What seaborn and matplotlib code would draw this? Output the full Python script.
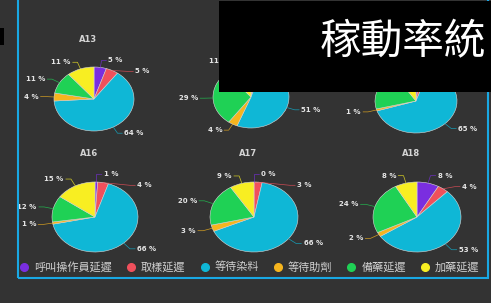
import matplotlib
matplotlib.use('Agg')
import matplotlib.pyplot as plt
import numpy as np
import seaborn as sns
from matplotlib.patches import Rectangle
from matplotlib.lines import Line2D

sns.set_theme(style='dark')
plt.rcParams['font.family'] = ['Noto Sans CJK TC', 'DejaVu Sans']

# data
machines = ['A13', 'A14', 'A15', 'A16', 'A17', 'A18']
reasons = ['呼叫操作員延遲', '取樣延遲', '等待染料', '等待助劑', '備藥延遲', '加藥延遲']
a13 = [5, 5, 64, 4, 11, 11]
a14 = [2, 3, 51, 4, 29, 11]
a15 = [2, 3, 65, 1, 20, 9]
a16 = [1, 4, 66, 1, 12, 15]
a17 = [0, 3, 66, 3, 20, 9]
a18 = [8, 4, 53, 2, 24, 8]
shares = [a13, a14, a15, a16, a17, a18]

colors = sns.color_palette(['#7a2ee0', '#f0505c', '#0fb7d6', '#f6b51e', '#1fd155', '#f8ee22'])

W, H = 491, 303
BG = '#333333'
fig = plt.figure(figsize=(W / 100, H / 100), dpi=100, facecolor=BG)

# centre x, centre y, radius x, radius y (pixels)
layout = [(94, 99, 40, 32), (251, 97, 38, 31), (416, 101, 41, 32),
          (95, 217, 43, 35), (254, 217, 44, 35), (417, 217, 44, 35)]
L = 2.0
R = 1.22     # elbow radius
GAP = 11     # min px between label rows

for name, vals, (cx, cy, rx, ry) in zip(machines, shares, layout):
    ax = fig.add_axes([(cx - L * rx) / W, (H - cy - L * ry) / H,
                       2 * L * rx / W, 2 * L * ry / H])
    wedges, _ = ax.pie(vals, colors=colors, startangle=90, counterclock=False,
                       wedgeprops=dict(edgecolor='#d8d8d8', linewidth=0.4))
    ax.set_aspect('auto')
    ax.set_xlim(-L, L)
    ax.set_ylim(-L, L)
    ax.axis('off')

    labels = []
    for w, v, c in zip(wedges, vals, colors):
        mid = np.deg2rad((w.theta1 + w.theta2) / 2)
        cs, sn = np.cos(mid), np.sin(mid)
        side = 1 if cs >= -0.01 else -1
        labels.append([cs, sn, side, R * sn, v, c])
    # push labels apart on each side (top to bottom)
    for side in (1, -1):
        grp = sorted([lb for lb in labels if lb[2] == side], key=lambda t: -t[3])
        for prev, cur in zip(grp, grp[1:]):
            if prev[3] - cur[3] < GAP / ry:
                cur[3] = prev[3] - GAP / ry
    for cs, sn, side, y1, v, c in labels:
        if abs(y1 - R * sn) < 1e-9:
            x1 = R * cs
        else:
            x1 = side * np.sqrt(max(R ** 2 - y1 ** 2, 0))
        x2 = x1 + side * 0.12
        ax.plot([cs, x1, x2], [sn, y1, y1], color=c, lw=0.5, alpha=0.8,
                clip_on=False)
        ax.text(x2 + side * 0.05, y1, f'{v} %', color='#e6e6e6', fontsize=5,
                fontweight='bold', family='DejaVu Sans',
                ha='left' if side > 0 else 'right', va='center')
    ax.text(-6 / rx, (ry + 28) / ry, name, color='#d4d4d4', fontsize=6,
            fontweight='bold', family='DejaVu Sans', ha='center', va='center')


def px_rect(x0, y0, x1, y1, **kw):
    return Rectangle((x0 / W, 1 - y1 / H), (x1 - x0) / W, (y1 - y0) / H,
                     transform=fig.transFigure, **kw)


# blue frame
fig.patches.append(px_rect(18, -10, 488, 278, fill=False, edgecolor='#19a8e4',
                           linewidth=1.5, zorder=0.8))
# black header box
fig.patches.append(px_rect(219, 1, 491, 92, facecolor='black', edgecolor='none',
                           zorder=2))
fig.patches.append(px_rect(0, 28, 4, 45, facecolor='black', edgecolor='none',
                           zorder=2))
fig.text(320 / W, 1 - 43 / H, '稼動率統', color='white', fontsize=30,
         fontweight='light', ha='left', va='center', zorder=3)

handles = [Line2D([], [], marker='o', linestyle='', markersize=5.5,
                  markerfacecolor=c, markeredgecolor=c) for c in colors]
fig.legend(handles, reasons, loc='center left',
           bbox_to_anchor=(20 / W, 1 - 267 / H), ncol=6, frameon=False,
           fontsize=8, handlelength=0.8, handletextpad=0.5, columnspacing=1.3,
           borderpad=0, borderaxespad=0, labelcolor='#d0d0d0')

fig.savefig('out.png', dpi=100, facecolor=BG)
